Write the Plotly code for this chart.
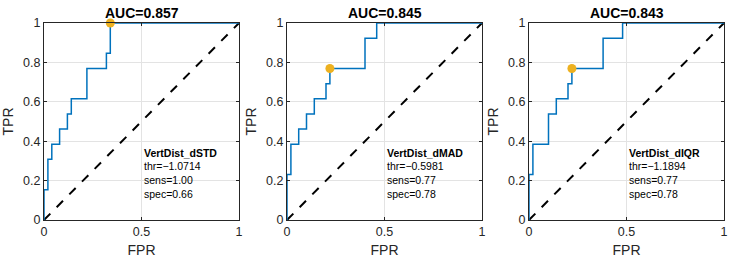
import plotly.graph_objects as go

# ---- data ----
fpr_std = [0, 0, 0.02, 0.02, 0.04, 0.04, 0.08, 0.08, 0.12, 0.12, 0.14, 0.14, 0.22, 0.22, 0.32, 0.32, 0.34, 0.34, 1.0]
tpr_std = [0, 0.154, 0.154, 0.308, 0.308, 0.385, 0.385, 0.462, 0.462, 0.538, 0.538, 0.615, 0.615, 0.769, 0.769, 0.846, 0.846, 1.0, 1.0]

fpr_mad = [0, 0, 0.02, 0.02, 0.06, 0.06, 0.10, 0.10, 0.14, 0.14, 0.20, 0.20, 0.22, 0.22, 0.40, 0.40, 0.46, 0.46, 1.0]
tpr_mad = [0, 0.231, 0.231, 0.385, 0.385, 0.462, 0.462, 0.538, 0.538, 0.615, 0.615, 0.692, 0.692, 0.769, 0.769, 0.923, 0.923, 1.0, 1.0]

fpr_iqr = [0, 0, 0.02, 0.02, 0.10, 0.10, 0.14, 0.14, 0.20, 0.20, 0.22, 0.22, 0.38, 0.38, 0.48, 0.48, 1.0]
tpr_iqr = [0, 0.231, 0.231, 0.385, 0.385, 0.538, 0.538, 0.615, 0.615, 0.692, 0.692, 0.769, 0.769, 0.923, 0.923, 1.0, 1.0]

names = ["VertDist_dSTD", "VertDist_dMAD", "VertDist_dIQR"]
aucs = ["0.857", "0.845", "0.843"]
thrs = ["−1.0714", "−0.5981", "−1.1894"]
sens = [1.00, 0.77, 0.77]
spec = [0.66, 0.78, 0.78]
opt_fpr = [0.34, 0.22, 0.22]
opt_tpr = [1.0, 0.769, 0.769]

xticks = [0, 0.5, 1]
xticklabels = ["0", "0.5", "1"]
yticks = [0, 0.2, 0.4, 0.6, 0.8, 1]
yticklabels = ["0", "0.2", "0.4", "0.6", "0.8", "1"]

curves = [(fpr_std, tpr_std), (fpr_mad, tpr_mad), (fpr_iqr, tpr_iqr)]

W, H = 735, 260
ML, MR, MT, MB = 44, 11, 23, 40
pw = W - ML - MR
panels_px = [(44, 239), (287, 482), (529, 724)]
domains = [[(a - ML) / pw, (b - ML) / pw] for a, b in panels_px]

FONT = "Liberation Sans, Arial, sans-serif"
TXT = "#262626"

fig = go.Figure()
layout = dict(
    width=W, height=H,
    margin=dict(l=ML, r=MR, t=MT, b=MB, autoexpand=False),
    paper_bgcolor="white", plot_bgcolor="white",
    showlegend=False,
    font=dict(family=FONT, color=TXT),
)
annotations = []
for i in range(3):
    xa = "x" if i == 0 else f"x{i+1}"
    ya = "y" if i == 0 else f"y{i+1}"
    fx, ty = curves[i]
    fig.add_trace(go.Scatter(x=[0, 1], y=[0, 1], xaxis=xa, yaxis=ya, mode="lines",
                             line=dict(color="black", width=2, dash="dash"), hoverinfo="skip"))
    fig.add_trace(go.Scatter(x=fx, y=ty, xaxis=xa, yaxis=ya, mode="lines",
                             line=dict(color="#0072BD", width=1.5)))
    fig.add_trace(go.Scatter(x=[opt_fpr[i]], y=[opt_tpr[i]], xaxis=xa, yaxis=ya, mode="markers",
                             marker=dict(color="#EDB120", size=9), cliponaxis=False))
    axkey_x = "xaxis" if i == 0 else f"xaxis{i+1}"
    axkey_y = "yaxis" if i == 0 else f"yaxis{i+1}"
    common = dict(showline=True, linecolor="#262626", linewidth=1, mirror="ticks",
                  ticks="inside", ticklen=3, tickcolor="#262626", automargin=False,
                  showgrid=True, gridcolor="#e3e3e3", gridwidth=1, zeroline=False,
                  tickfont=dict(size=12.5, color=TXT, family=FONT))
    layout[axkey_x] = dict(common, domain=domains[i], range=[0, 1], anchor=ya,
                           tickvals=xticks, ticktext=xticklabels,
                           title=dict(text="FPR", font=dict(size=14, color=TXT), standoff=7))
    layout[axkey_y] = dict(common, domain=[0, 1], range=[0, 1], anchor=xa,
                           tickvals=yticks, ticktext=yticklabels,
                           title=dict(text="TPR", font=dict(size=14, color=TXT), standoff=6))
    xr = f"{xa} domain"
    yr = f"{ya} domain"
    annotations.append(dict(text=f"<b>AUC={aucs[i]}</b>", x=0.5, y=1.0, xref=xr, yref=yr,
                            xanchor="center", yanchor="bottom", yshift=0, showarrow=False,
                            font=dict(size=14, color="black", family=FONT)))
    lines = [f"<b>{names[i]}</b>", f"thr={thrs[i]}", f"sens={sens[i]:.2f}", f"spec={spec[i]:.2f}"]
    ys = [0.342, 0.272, 0.203, 0.132]
    for ln, yy in zip(lines, ys):
        annotations.append(dict(text=ln, x=0.5, y=yy, xref=xa, yref=ya, xanchor="left",
                                yanchor="middle", showarrow=False,
                                font=dict(size=10.5, color="black", family=FONT)))
layout["annotations"] = annotations
fig.update_layout(**layout)
fig.write_html("out.html")
